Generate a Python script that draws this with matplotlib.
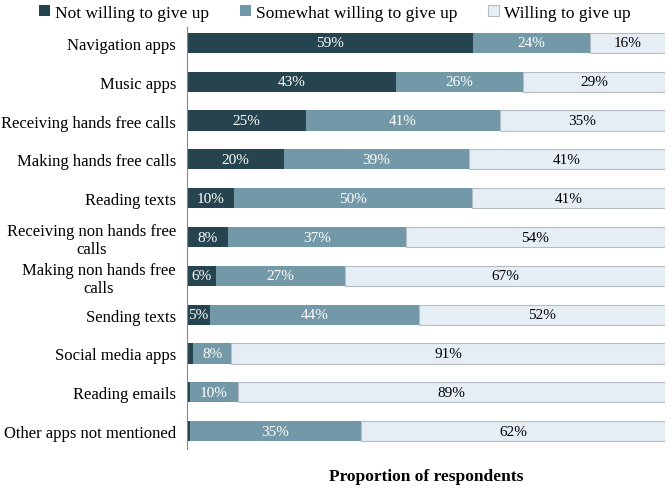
import matplotlib.pyplot as plt

# categories (top to bottom)
categories = ['Navigation apps', 'Music apps', 'Receiving hands free calls',
              'Making hands free calls', 'Reading texts',
              'Receiving non hands free\ncalls', 'Making non hands free\ncalls',
              'Sending texts', 'Social media apps', 'Reading emails',
              'Other apps not mentioned']

# segment widths (%)
not_willing = [59.8, 43.7, 24.9, 20.3, 9.8, 8.6, 6.1, 4.8, 1.3, 0.6, 0.6]
somewhat = [24.5, 26.6, 40.6, 38.7, 49.8, 37.2, 27.0, 43.7, 7.9, 10.0, 35.8]
willing = [15.7, 29.7, 34.5, 41.0, 40.4, 54.2, 66.9, 51.5, 90.8, 89.4, 63.6]

# printed labels
not_lbl = ['59%', '43%', '25%', '20%', '10%', '8%', '6%', '5%', '', '', '']
some_lbl = ['24%', '26%', '41%', '39%', '50%', '37%', '27%', '44%', '8%', '10%', '35%']
will_lbl = ['16%', '29%', '35%', '41%', '41%', '54%', '67%', '52%', '91%', '89%', '62%']

plt.rcParams['font.family'] = ['Liberation Serif', 'DejaVu Serif']

fig = plt.figure(figsize=(6.7, 4.89), dpi=100)
ax = fig.add_axes([187 / 670, 39 / 489, 478 / 670, 422 / 489])

y = list(range(len(categories)))
h = 0.52
c_dark, c_mid, c_light = '#25444f', '#7399a8', '#e6eef5'

left2 = [a for a in not_willing]
left3 = [a + b for a, b in zip(not_willing, somewhat)]

b1 = ax.barh(y, not_willing, height=h, color=c_dark, label='Not willing to give up')
b2 = ax.barh(y, somewhat, left=left2, height=h, color=c_mid,
             label='Somewhat willing to give up')
b3 = ax.barh(y, willing, left=left3, height=h, color=c_light,
             edgecolor='#b5bcc4', linewidth=0.8, label='Willing to give up')

for i in y:
    if not_lbl[i]:
        ax.text(not_willing[i] / 2, i, not_lbl[i], ha='center', va='center',
                color='white', fontsize=11)
    ax.text(left2[i] + somewhat[i] / 2, i, some_lbl[i], ha='center', va='center',
            color='white', fontsize=11)
    ax.text(left3[i] + willing[i] / 2, i, will_lbl[i], ha='center', va='center',
            color='black', fontsize=11)

ax.set_xlim(0, 100)
ax.set_ylim(10.46, -0.41)
ax.set_yticks(y)
ax.set_yticklabels(categories, fontsize=12, multialignment='center')
ax.tick_params(axis='y', length=0, pad=8)
ax.set_xticks([])
for s in ['top', 'right', 'bottom']:
    ax.spines[s].set_visible(False)
ax.spines['left'].set_color('#888888')
ax.spines['left'].set_linewidth(0.8)

ax.set_xlabel('Proportion of respondents', fontsize=12.5, fontweight='bold',
              labelpad=14)

fig.legend(handles=[b1, b2, b3], loc='upper center', bbox_to_anchor=(0.5, 1.02),
           ncol=3, frameon=False, fontsize=12.5, handlelength=0.6,
           handleheight=0.6, handletextpad=0.3, columnspacing=1.8)

fig.savefig('out.png', dpi=100)
